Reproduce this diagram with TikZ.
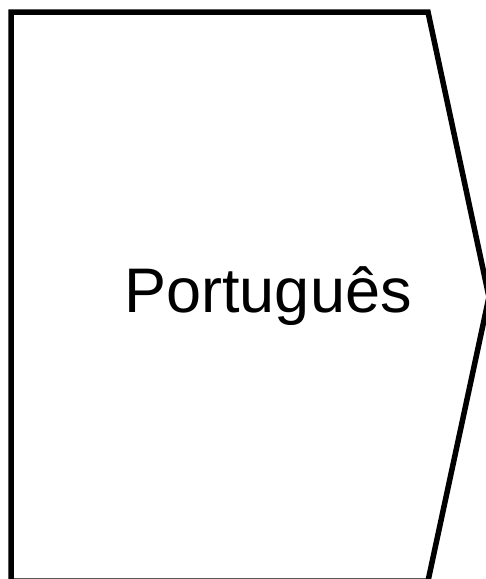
\documentclass[tikz,border=0pt]{standalone}
\usepackage{fontspec}
\setmainfont{Liberation Sans}
\usepackage{tikz}
\usetikzlibrary{positioning,calc}

\begin{document}
\begin{tikzpicture}[
    x=1pt, y=1pt,
    outline/.style={draw=black, line width=5.5pt, line join=miter},
    langlabel/.style={font=\fontsize{63}{70}\selectfont, inner sep=0pt, anchor=base}
]

\useasboundingbox (0,0) rectangle (486,-579);

% Corners of the arrow box
\coordinate (nw)  at (11,-12);
\coordinate (ne)  at (428,-12);
\coordinate (tip) at (489,-297);
\coordinate (se)  at (428,-581);
\coordinate (sw)  at (11,-581);

% Box
\draw[outline] (nw) -- (ne) -- (tip) -- (se) -- (sw) -- cycle;

% Label
\node[langlabel] (lang) at (268,-312) {Português};

\end{tikzpicture}
\end{document}
